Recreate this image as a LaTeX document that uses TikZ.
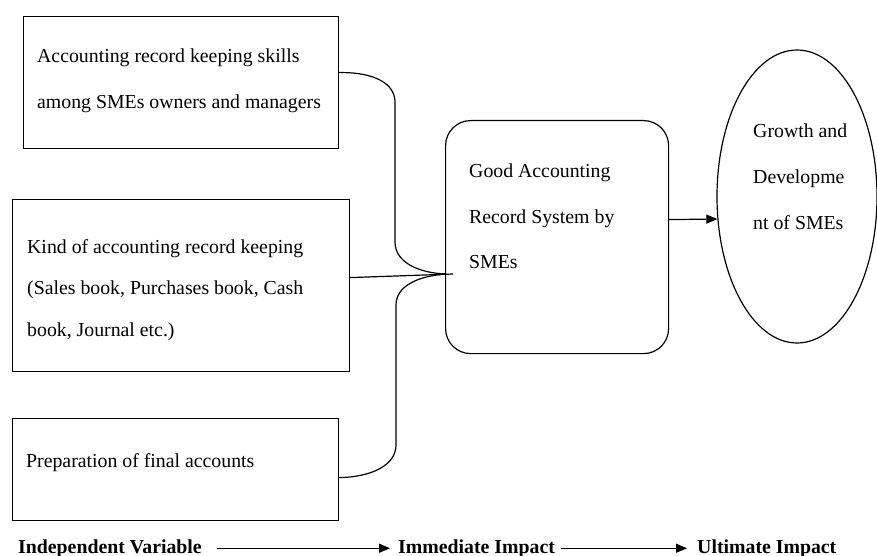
\documentclass[tikz,border=0pt]{standalone}
\usepackage{fontspec}
\setmainfont{Liberation Serif}
\usetikzlibrary{arrows.meta,shapes.geometric}
\begin{document}
\begin{tikzpicture}[x=1pt,y=-1pt,
  box/.style={draw,line width=1.2pt,inner sep=0pt,anchor=north west},
  txt/.style={anchor=base west,inner sep=0pt,font=\fontsize{19.8}{24}\selectfont},
  lbl/.style={anchor=base west,inner sep=0pt,font=\fontsize{19.8}{24}\selectfont\bfseries},
  conn/.style={line width=1.2pt},
  arr/.style={line width=1.2pt,-{Triangle[length=11pt,width=9pt]}}]
\useasboundingbox (0,0) rectangle (877,556);

% boxes
\node[box,minimum width=315pt,minimum height=132pt] (b1) at (23,16) {};
\node[box,minimum width=337pt,minimum height=172pt] (b2) at (12,199) {};
\node[box,minimum width=326pt,minimum height=102pt] (b3) at (12,418) {};
\node[box,rounded corners=25pt,minimum width=223pt,minimum height=233pt] (rb) at (445,120) {};
\node[draw,line width=1.2pt,ellipse,inner sep=0pt,minimum width=160pt,minimum height=293pt] (el) at (797,196.5) {};

% texts
\node[txt] (t1a) at (37,63) {Accounting record keeping skills};
\node[txt] (t1b) at (37,109) {among SMEs owners and managers};
\node[txt] (t2a) at (27,253) {Kind of accounting record keeping};
\node[txt] (t2b) at (27,294.5) {(Sales book, Purchases book, Cash};
\node[txt] (t2c) at (27,336) {book, Journal etc.)};
\node[txt] (t3a) at (26,467) {Preparation of final accounts};
\node[txt] (t4a) at (469,178) {Good Accounting};
\node[txt] (t4b) at (469,223) {Record System by};
\node[txt] (t4c) at (469,268) {SMEs};
\node[txt] (t5a) at (753,138) {Growth and};
\node[txt] (t5b) at (753,183.5) {Developme};
\node[txt] (t5c) at (753,229) {nt of SMEs};

% bottom labels
\node[lbl] (iv) at (18,553) {Independent Variable};
\node[lbl] (ii) at (398,553) {Immediate Impact};
\node[lbl] (ui) at (697,553) {Ultimate Impact};
\draw[arr,shorten <=15pt,shorten >=8pt] (iv.east) -- (iv.east -| ii.west);
\draw[arr,shorten <=6pt,shorten >=10pt] (ii.east) -- (ii.east -| ui.west);

% connectors
\coordinate (m) at (446,274);
\coordinate (mt) at (453,274);
\draw[conn] ([yshift=10pt]b1.east) .. controls (375,72) and (395,84) .. (395,102) -- (395,242) .. controls (395,262) and (418,273) .. (m);
\draw[conn] ([yshift=8pt]b2.east) -- (mt);
\draw[conn] (m) .. controls (418,276) and (396,286) .. (396,305) -- (396,445) .. controls (396,465) and (372,477) .. ([yshift=-8pt]b3.east);
\draw[arr] ([yshift=17.5pt]rb.east) -- ([xshift=1pt,yshift=-22.5pt]el.west);
\end{tikzpicture}
\end{document}
